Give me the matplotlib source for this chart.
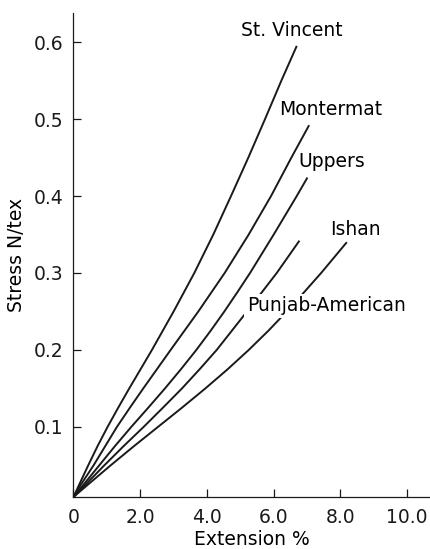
import matplotlib.pyplot as plt

plt.rcParams['font.family'] = 'DejaVu Sans'
plt.rcParams['font.size'] = 13.5

# Stress-strain curves of five cottons (stress in N/tex, extension in %)
y0 = 0.009
stvincent_ext = [0.0, 0.17, 0.44, 0.72, 1.02, 1.34, 1.67, 2.01, 2.35, 3.0,
                 3.62, 4.19, 4.72, 5.24, 5.74, 6.23, 6.69]
stvincent_stress = [y0, 0.025, 0.05, 0.075, 0.1, 0.125, 0.15, 0.175, 0.2, 0.25,
                    0.3, 0.35, 0.4, 0.45, 0.5, 0.55, 0.595]

montermat_ext = [0.0, 0.22, 0.6, 0.95, 1.3, 1.69, 2.09, 2.5, 2.91, 3.74,
                 4.53, 5.25, 5.92, 6.53, 7.06]
montermat_stress = [y0, 0.025, 0.05, 0.075, 0.1, 0.125, 0.15, 0.175, 0.2, 0.25,
                    0.3, 0.35, 0.4, 0.45, 0.492]

uppers_ext = [0.0, 0.3, 0.77, 1.24, 1.73, 2.24, 2.74, 3.22, 3.68, 4.11,
              4.52, 4.91, 5.29, 6.0, 6.69, 7.01]
uppers_stress = [y0, 0.025, 0.05, 0.075, 0.1, 0.125, 0.15, 0.175, 0.2, 0.225,
                 0.25, 0.275, 0.3, 0.35, 0.4, 0.424]

punjab_ext = [0.0, 0.36, 0.92, 1.5, 2.1, 2.68, 3.25, 3.78, 4.29, 5.2,
              6.09, 6.77]
punjab_stress = [y0, 0.025, 0.05, 0.075, 0.1, 0.125, 0.15, 0.175, 0.2, 0.25,
                 0.3, 0.342]

ishan_ext = [0.0, 0.43, 1.11, 1.81, 2.53, 3.25, 3.95, 4.62, 5.25, 5.84,
             6.39, 6.91, 7.42, 8.19]
ishan_stress = [y0, 0.025, 0.05, 0.075, 0.1, 0.125, 0.15, 0.175, 0.2, 0.225,
                0.25, 0.275, 0.3, 0.34]

x_ticks = [0, 2, 4, 6, 8, 10]
x_ticklabels = ['0', '2.0', '4.0', '6.0', '8.0', '10.0']
y_ticks = [0.1, 0.2, 0.3, 0.4, 0.5, 0.6]

curves = [
    (stvincent_ext, stvincent_stress),
    (montermat_ext, montermat_stress),
    (uppers_ext, uppers_stress),
    (punjab_ext, punjab_stress),
    (ishan_ext, ishan_stress),
]

fig = plt.figure(figsize=(4.31, 5.49), dpi=100)
ax = fig.add_axes([0.1705, 0.0947, 0.827, 0.882])

for ext, stress in curves:
    ax.plot(ext, stress, color='#1a1a1a', linewidth=1.4,
            solid_capstyle='butt', solid_joinstyle='round', zorder=2)

ax.set_xlim(0, 10.68)
ax.set_ylim(y0, 0.638)
ax.set_xticks(x_ticks)
ax.set_xticklabels(x_ticklabels)
ax.set_yticks(y_ticks)
ax.set_yticklabels([f'{v:.1f}' for v in y_ticks])

for side in ['top', 'right']:
    ax.spines[side].set_visible(False)
for side in ['left', 'bottom']:
    ax.spines[side].set_linewidth(0.9)
    ax.spines[side].set_color('#1a1a1a')

ax.tick_params(direction='in', length=5.5, width=0.9, colors='#1a1a1a')
ax.tick_params(axis='x', pad=8)
ax.tick_params(axis='y', pad=7)

ax.set_xlabel('Extension %', labelpad=2)
ax.set_ylabel('Stress N/tex', labelpad=6)

# Curve labels
ax.text(6.54, 0.608, 'St. Vincent', ha='center', va='baseline')
ax.text(7.72, 0.505, 'Montermat', ha='center', va='baseline')
ax.text(7.75, 0.438, 'Uppers', ha='center', va='baseline')
ax.text(8.44, 0.349, 'Ishan', ha='center', va='baseline')
ax.text(7.57, 0.25, 'Punjab-American', ha='center', va='baseline', zorder=3,
        bbox=dict(boxstyle='square,pad=0.15', facecolor='white', edgecolor='none'))

fig.savefig('out.png', dpi=100)
